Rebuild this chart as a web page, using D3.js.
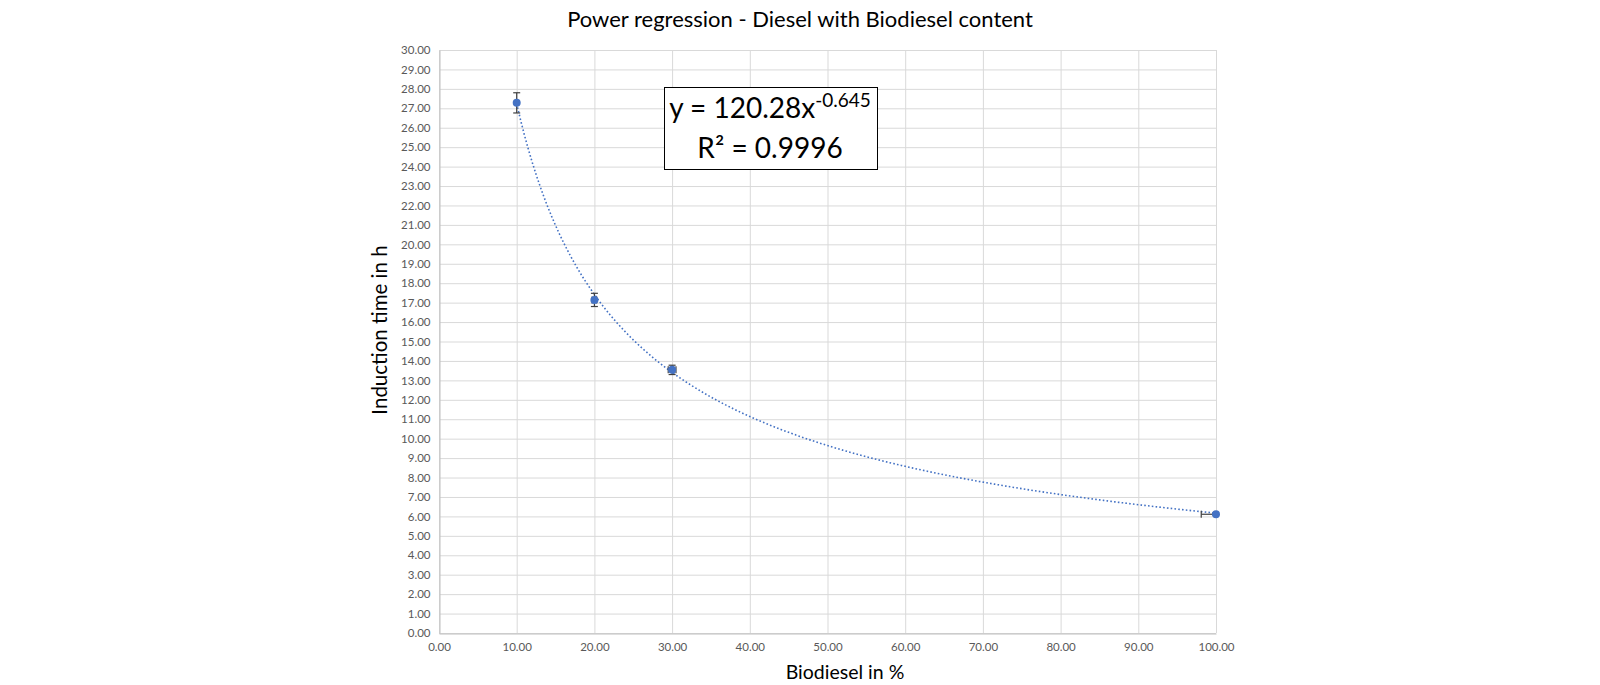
<!DOCTYPE html>
<html>
<head>
<meta charset="utf-8">
<script src="https://cdn.jsdelivr.net/npm/d3@7"></script>
<style>
  body { margin: 0; background: #fff; }
  svg { display: block; font-family: Lato, "Open Sans", sans-serif; }
</style>
</head>
<body>
<svg id="chart"></svg>
<script>
var biodiesel = [10, 20, 30, 100];
var inductionTime = [27.28, 17.14, 13.54, 6.11];
var yErr = [0.52, 0.34, 0.24, 0.05];
var xErr = [0, 0.3, 0.5, 1.9];

// power trendline shown on the chart: y = a * x^b
var fitA = 120.28, fitB = -0.645;
var fitR2 = "0.9996";

var xTicks = d3.range(0, 101, 10);
var yTicks = d3.range(0, 31, 1);

var width = 1600, height = 685;
var margin = { top: 50, right: 384, bottom: 52, left: 439 },
    w = width - margin.left - margin.right,
    h = height - margin.top - margin.bottom;

var svg = d3.select("#chart").attr("width", width).attr("height", height);

var g = svg.append("g").attr("transform", `translate(${margin.left}, ${margin.top})`);

var x = d3.scaleLinear().domain([0, 100]).range([0, w]);
var y = d3.scaleLinear().domain([0, 30]).range([h, 0]);

svg.append("defs").append("clipPath").attr("id", "plotclip")
  .append("rect").attr("x", 0).attr("y", 0).attr("width", w).attr("height", h);

// gridlines
g.append("g").selectAll("line").data(yTicks).join("line")
  .attr("x1", 0).attr("x2", w)
  .attr("y1", d => y(d) + 0.5).attr("y2", d => y(d) + 0.5)
  .attr("stroke", "#d9d9d9").attr("stroke-width", 1);
g.append("g").selectAll("line").data(xTicks).join("line")
  .attr("x1", d => x(d) + 0.5).attr("x2", d => x(d) + 0.5)
  .attr("y1", 0).attr("y2", h)
  .attr("stroke", "#d9d9d9").attr("stroke-width", 1);

// axes
var xAxis = g.append("g").attr("transform", `translate(0, ${h + 0.5})`)
  .call(d3.axisBottom(x).tickValues(xTicks).tickFormat(d3.format(".2f")).tickSize(0).tickPadding(9));
var yAxis = g.append("g").attr("transform", "translate(0.5,0)")
  .call(d3.axisLeft(y).tickValues(yTicks).tickFormat(d3.format(".2f")).tickSize(0).tickPadding(9));
[xAxis, yAxis].forEach(a => {
  a.select(".domain").attr("stroke", "#bfbfbf");
  a.selectAll("text").attr("fill", "#595959").style("font-size", "11.5px")
    .style("font-family", "Lato, 'Open Sans', sans-serif");
});

// trendline
var curve = d3.range(10, 100.01, 0.5).map(v => [v, fitA * Math.pow(v, fitB)]);
g.append("path").datum(curve)
  .attr("fill", "none")
  .attr("stroke", "#4472c4")
  .attr("stroke-width", 1.6)
  .attr("stroke-dasharray", "1.6,2.2")
  .attr("d", d3.line().x(d => x(d[0])).y(d => y(d[1])));

var pts = biodiesel.map((v, i) => ({ x: v, y: inductionTime[i], ex: xErr[i], ey: yErr[i] }));

// error bars
var eb = g.append("g").attr("clip-path", "url(#plotclip)")
  .attr("stroke", "#404040").attr("stroke-width", 1.2);
var cap = 3.5;
pts.forEach(p => {
  if (p.ey > 0) {
    eb.append("line").attr("x1", x(p.x)).attr("x2", x(p.x)).attr("y1", y(p.y - p.ey)).attr("y2", y(p.y + p.ey));
    [p.y - p.ey, p.y + p.ey].forEach(e => {
      eb.append("line").attr("x1", x(p.x) - cap).attr("x2", x(p.x) + cap).attr("y1", y(e)).attr("y2", y(e));
    });
  }
  if (p.ex > 0) {
    eb.append("line").attr("x1", x(p.x - p.ex)).attr("x2", x(p.x + p.ex)).attr("y1", y(p.y)).attr("y2", y(p.y));
    [p.x - p.ex, p.x + p.ex].forEach(e => {
      eb.append("line").attr("x1", x(e)).attr("x2", x(e)).attr("y1", y(p.y) - cap).attr("y2", y(p.y) + cap);
    });
  }
});

// markers
g.selectAll("circle.pt").data(pts).join("circle")
  .attr("class", "pt")
  .attr("cx", d => x(d.x))
  .attr("cy", d => y(d.y))
  .attr("r", 4)
  .attr("fill", "#4472c4");

// equation box
var box = svg.append("g");
box.append("rect").attr("x", 664.5).attr("y", 87.5).attr("width", 213).attr("height", 82)
  .attr("fill", "#fff").attr("stroke", "#000").attr("stroke-width", 1);
var eq = box.append("text").attr("x", 770).attr("y", 118).attr("text-anchor", "middle")
  .style("font-size", "28px").attr("fill", "#000");
eq.append("tspan").text("y = " + fitA.toFixed(2) + "x");
eq.append("tspan").attr("dy", -11).style("font-size", "19px").text(fitB.toFixed(3));
box.append("text").attr("x", 770).attr("y", 158).attr("text-anchor", "middle")
  .style("font-size", "28px").attr("fill", "#000").text("R² = " + fitR2);

// titles
svg.append("text").attr("x", 800).attr("y", 27).attr("text-anchor", "middle")
  .style("font-size", "22px").attr("fill", "#000")
  .text("Power regression - Diesel with Biodiesel content");
svg.append("text").attr("x", 845).attr("y", 679).attr("text-anchor", "middle")
  .style("font-size", "19.5px").attr("fill", "#000").text("Biodiesel in %");
svg.append("text").attr("transform", "translate(387, 330) rotate(-90)")
  .attr("text-anchor", "middle")
  .style("font-size", "20.5px").attr("fill", "#000").text("Induction time in h");
</script>
</body>
</html>
